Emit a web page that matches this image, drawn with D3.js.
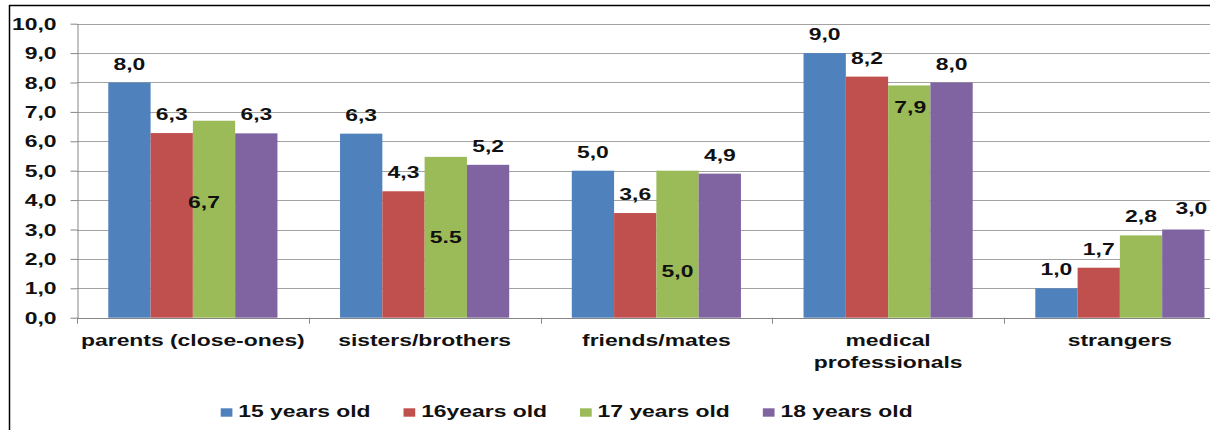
<!DOCTYPE html>
<html>
<head>
<meta charset="utf-8">
<script src="https://cdn.jsdelivr.net/npm/d3@7"></script>
<style>
  body { margin: 0; background: #fff; }
  svg text { font-family: "Liberation Sans", Arial, sans-serif; font-weight: bold; font-size: 16px; fill: #111; }
</style>
</head>
<body>
<svg width="1210" height="430"></svg>
<script>
// data
const categories = ['parents (close-ones)', 'sisters/brothers', 'friends/mates', 'medical professionals', 'strangers'];
const series = ['15 years old', '16years old', '17 years old', '18 years old'];
const age15 = [8.0, 6.26, 5.0, 9.0, 1.0];
const age16 = [6.28, 4.3, 3.56, 8.2, 1.7];
const age17 = [6.7, 5.47, 5.0, 7.9, 2.8];
const age18 = [6.27, 5.2, 4.9, 8.0, 3.0];
const yTicks = [0, 1, 2, 3, 4, 5, 6, 7, 8, 9, 10];
const colors = ['#4f81bd', '#c0504d', '#9bbb59', '#8064a2'];

const values = [age15, age16, age17, age18];
// one label in the original uses a dot instead of a comma
const dotLabels = [['sisters/brothers', '17 years old']];

// the original picture is stretched sideways, so the text is too
const SX = 1.43;

const svg = d3.select('svg');

// frame (clipped at right and bottom in the original)
svg.append('line').attr('x1', 9).attr('x2', 1210).attr('y1', 5.5).attr('y2', 5.5)
  .attr('stroke', '#000').attr('stroke-width', 1.5);
svg.append('line').attr('x1', 9.5).attr('x2', 9.5).attr('y1', 5).attr('y2', 430)
  .attr('stroke', '#000').attr('stroke-width', 1.5);

const left = 77, catW = 231.75;
const x0 = d3.scaleBand().domain(categories).range([left, left + catW * categories.length]);
const x1 = d3.scaleBand().domain(series).range([0, x0.bandwidth()]).paddingOuter(0.74);
const y = d3.scaleLinear().domain([0, 10]).range([317.7, 23.7]);

const fmt = (v, cat, s) => {
  const t = d3.format('.1f')(v);
  return dotLabels.some(d => d[0] === cat && d[1] === s) ? t : t.replace('.', ',');
};

function place(sel, x, y) {
  sel.attr('transform', `translate(${x},${y}) scale(${SX},1)`);
}

// gridlines
svg.append('g').selectAll('line').data(yTicks.slice(1)).join('line')
  .attr('x1', left).attr('x2', 1210)
  .attr('y1', d => Math.round(y(d)) + 0.5).attr('y2', d => Math.round(y(d)) + 0.5)
  .attr('stroke', '#a3a3a3');

// y axis
const yAxis = svg.append('g').attr('transform', `translate(${left + 0.5},0)`)
  .call(d3.axisLeft(y).tickValues(yTicks).tickSize(7).tickSizeOuter(0)
    .tickFormat(d => d3.format('.1f')(d).replace('.', ',')));
yAxis.attr('font-family', null).attr('font-size', null);
yAxis.select('.domain').attr('stroke', '#868686');
yAxis.selectAll('.tick line').attr('stroke', '#868686');
yAxis.selectAll('.tick text')
  .attr('x', 0).attr('dy', '0.35em')
  .attr('transform', `translate(-21,0) scale(${SX},1)`);

// x axis
const xAxis = svg.append('g');
xAxis.append('line').attr('x1', left).attr('x2', 1210)
  .attr('y1', Math.round(y(0)) + 0.5).attr('y2', Math.round(y(0)) + 0.5).attr('stroke', '#868686');
xAxis.selectAll('.tk').data(categories).join('line').attr('class', 'tk')
  .attr('x1', d => Math.round(x0(d)) + 0.5).attr('x2', d => Math.round(x0(d)) + 0.5)
  .attr('y1', y(0)).attr('y2', y(0) + 6).attr('stroke', '#868686');

// category labels, wrapped when wider than the band
categories.forEach(cat => {
  const cx = x0(cat) + x0.bandwidth() / 2;
  const probe = svg.append('text').text(cat);
  const w = probe.node().getComputedTextLength() * SX;
  probe.remove();
  const lines = w > x0.bandwidth() - 4 ? cat.split(' ') : [cat];
  lines.forEach((ln, i) => {
    svg.append('text').attr('text-anchor', 'middle').text(ln)
      .call(place, cx, 345.5 + i * 22);
  });
});

// bars
const rows = [];
categories.forEach((cat, ci) => series.forEach((s, si) => {
  rows.push({ cat, s, si, v: values[si][ci] });
}));

svg.append('g').selectAll('rect').data(rows).join('rect')
  .attr('x', d => x0(d.cat) + x1(d.s))
  .attr('y', d => y(d.v))
  .attr('width', x1.bandwidth())
  .attr('height', d => y(0) - y(d.v))
  .attr('fill', d => colors[d.si]);

// data labels; a few were moved by hand in the original
const nudge = {
  'parents (close-ones)|17 years old': [-10, 100],
  'sisters/brothers|17 years old': [0, 98.7],
  'friends/mates|17 years old': [0, 119.3],
  'medical professionals|17 years old': [1, 40.6],
  'strangers|18 years old': [8, -2.5]
};
rows.forEach(d => {
  const [dx, dy] = nudge[d.cat + '|' + d.s] || [0, 0];
  svg.append('text').attr('text-anchor', 'middle').text(fmt(d.v, d.cat, d.s))
    .call(place, x0(d.cat) + x1(d.s) + x1.bandwidth() / 2 + dx, y(d.v) - 13 + dy);
});

// legend
let lx = 220.7;
series.forEach((s, i) => {
  svg.append('rect').attr('x', lx).attr('y', 408.3).attr('width', 11.7).attr('height', 8.4)
    .attr('fill', colors[i]);
  const t = svg.append('text').text(s).call(place, lx + 17.6, 416.5);
  lx += 17.6 + t.node().getComputedTextLength() * SX + 33;
});
</script>
</body>
</html>
